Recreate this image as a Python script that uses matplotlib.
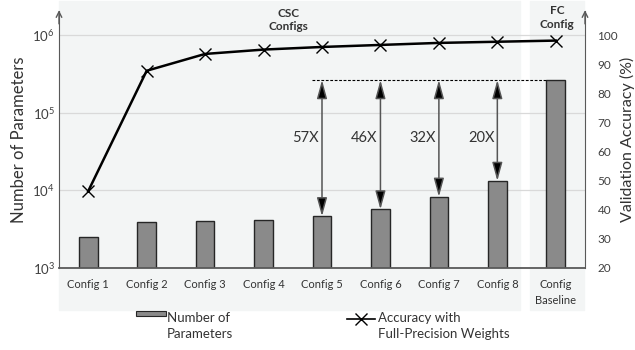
import numpy as np
import matplotlib
matplotlib.use('Agg')
import matplotlib.pyplot as plt
from matplotlib.patches import Rectangle
from matplotlib.lines import Line2D
import matplotlib.transforms as mtransforms

plt.rcParams['font.family'] = ['Lato', 'DejaVu Sans']
plt.rcParams['mathtext.fontset'] = 'custom'
plt.rcParams['mathtext.rm'] = 'Lato'

# data
configs = ['Config 1', 'Config 2', 'Config 3', 'Config 4', 'Config 5',
           'Config 6', 'Config 7', 'Config 8', 'Config\nBaseline']
params = [2500, 3900, 4000, 4200, 4650, 5700, 8300, 13300, 266000]
accuracy = [46.5, 88.0, 93.8, 95.3, 96.2, 96.9, 97.6, 98.0, 98.4]
ratio_labels = ['57X', '46X', '32X', '20X']
ratio_idx = [4, 5, 6, 7]

x = np.arange(len(configs))

fig = plt.figure(figsize=(6.35, 3.5), dpi=100)
ax = fig.add_axes([59/635, 1-268/350, 526/635, 257/350])
ax.patch.set_visible(False)

# shaded group panels
blend = mtransforms.blended_transform_factory(ax.transData, ax.transAxes)
panel_col = '#f3f5f5'
ax.add_patch(Rectangle((-0.5, -0.163), 7.89, 1.2, transform=blend,
                       color=panel_col, zorder=0, clip_on=False))
ax.add_patch(Rectangle((7.56, -0.163), 0.93, 1.2, transform=blend,
                       color=panel_col, zorder=0, clip_on=False))

ax.set_yscale('log')
ax.set_ylim(1e3, 10**6.316)
ax.set_xlim(-0.5, 8.5)
ax.set_yticks([1e3, 1e4, 1e5, 1e6])
ax.set_yticklabels([r'$10^{3}$', r'$10^{4}$', r'$10^{5}$', r'$10^{6}$'])
ax.minorticks_off()
ax.yaxis.grid(True, color='#d9d9d9', lw=0.9, zorder=0.5)
ax.set_axisbelow(True)

ax.bar(x, params, width=0.32, color='#8a8a8a', edgecolor='#262626',
       lw=1.0, zorder=2)

# dashed reference line at baseline height
base = params[-1]
ax.plot([3.83, 8 - 0.16], [base, base], color='black', ls=(0, (2.5, 1.5)),
        lw=0.8, zorder=3)
for lab, i in zip(ratio_labels, ratio_idx):
    ax.annotate('', xy=(i, params[i]), xytext=(i, base),
                arrowprops=dict(arrowstyle='<|-|>,head_length=0.8,head_width=0.22',
                                color='#555555', lw=1.1, mutation_scale=14,
                                shrinkA=0, shrinkB=0, fc='black'),
                zorder=3)
    ax.text(i - 0.05, 10**4.68, lab, ha='right', va='center',
            fontsize=10.5, color='#333333', zorder=4)

ax.set_xticks(x)
ax.set_xticklabels(configs, fontsize=8, color='#333333', linespacing=1.5)
ax.tick_params(axis='x', length=0, pad=8)
ax.tick_params(axis='y', length=0, pad=3, labelsize=9.5, labelcolor='#404040')
ax.set_ylabel('Number of Parameters', fontsize=12, color='#333333',
              labelpad=4)

for s in ['top', 'right']:
    ax.spines[s].set_visible(False)
ax.spines['left'].set_color('#595959')
ax.spines['bottom'].set_color('#595959')
ax.spines['bottom'].set_linewidth(1.3)

ax2 = ax.twinx()
ax2.set_ylim(20, 108.6)
ax2.set_yticks(range(20, 101, 10))
ax2.plot(x, accuracy, color='black', lw=1.8, marker='x', ms=9, mew=1.0,
         zorder=5)
ax2.tick_params(axis='y', length=0, pad=9, labelsize=8.5,
                labelcolor='#404040')
ax2.set_ylabel('Validation Accuracy (%)', fontsize=11.5, color='#333333',
               labelpad=1)
for s in ['top', 'left', 'bottom']:
    ax2.spines[s].set_visible(False)
ax2.spines['right'].set_color('#595959')

# arrow tips on the vertical axes
for xa in [0, 1]:
    ax.annotate('', xy=(xa, 1.003), xytext=(xa, 0.95),
                xycoords='axes fraction',
                arrowprops=dict(arrowstyle='->', color='#595959', lw=1.0,
                                mutation_scale=10, shrinkA=0, shrinkB=0))

ax.text(3.42, 0.965, 'CSC\nConfigs', transform=blend, ha='center',
        va='center', fontsize=8.5, fontweight='bold', color='#333333',
        linespacing=1.3)
ax.text(8.02, 0.975, 'FC\nConfig', transform=blend, ha='center',
        va='center', fontsize=8.5, fontweight='bold', color='#333333',
        linespacing=1.3)

# legend, drawn by hand to keep the handles on the first text line
fig.add_artist(Rectangle((136/635, 1-316/350), 30/635, 5/350,
                         transform=fig.transFigure, fc='#8a8a8a',
                         ec='#262626', lw=0.8))
fig.text(167/635, 1-312/350, 'Number of\nParameters', ha='left',
         va='top', fontsize=9.5, color='#333333', linespacing=1.35)
fig.add_artist(Line2D([347/635, 375/635], [1-319/350, 1-319/350],
                      transform=fig.transFigure, color='black', lw=1.2))
fig.add_artist(Line2D([361/635], [1-319/350], transform=fig.transFigure,
                      color='black', marker='x', ms=8, mew=1.0))
fig.text(378/635, 1-312/350, 'Accuracy with\nFull-Precision Weights',
         ha='left', va='top', fontsize=9.5, color='#333333',
         linespacing=1.35)

fig.savefig('out.png', dpi=100)
